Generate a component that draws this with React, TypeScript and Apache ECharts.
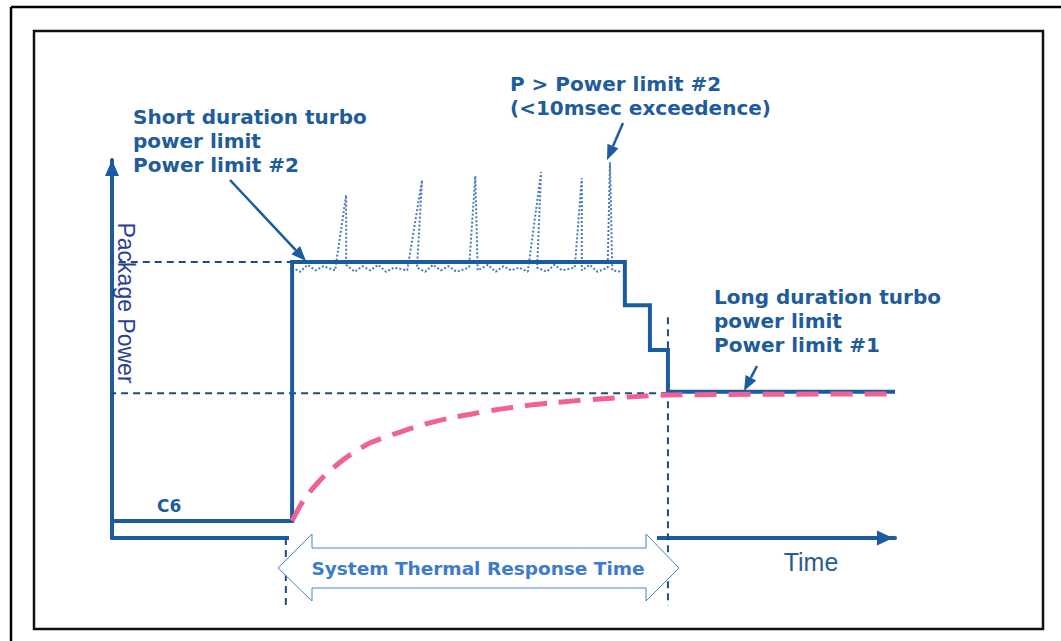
import React, { useEffect, useRef } from "react";
import * as echarts from "echarts";

// ---- data (time in arbitrary units, package power in % of PL2) ----
const TIME_MAX = 100;
const POWER_MAX = 137;
const PL2 = 100;
const PL1 = 52.5;

const packagePowerT = [0, 23, 23, 65.5, 65.5, 68.7, 68.7, 71, 71, 100];
const packagePowerP = [6.2, 6.2, 100, 100, 84.4, 84.4, 68.1, 68.1, 53, 53];

const thermalT = [23, 24.5, 26.6, 28.5, 30.4, 33, 36.8, 40, 43.2, 46.4, 49.6, 52.7, 55.9, 59, 62.3, 66, 71, 85, 100];
const thermalP = [6.2, 13.8, 21, 26, 30.1, 34.5, 38.4, 41.3, 43.5, 45.2, 46.7, 47.9, 48.9, 49.7, 50.4, 51.1, 51.8, 52.1, 52.2];

const burstT = [23, 24, 25, 26, 27, 28.5, 29.9, 29.9, 31, 32, 33, 34, 35, 36, 37.7, 39.6, 38.95, 40, 41, 42, 43, 44, 45.6, 46.4, 46.7, 48, 49, 50, 51, 52, 53.1, 54.8, 54.3, 55.5, 56.5, 57.5, 59.1, 60, 60, 61, 62, 63.3, 63.6, 63.9, 65];
const burstP = [98, 96.5, 99, 97, 98.5, 97, 124.3, 99, 96.5, 98.5, 97, 99, 96.5, 98, 97, 129.7, 98, 96.5, 99, 97, 98.5, 96.5, 98, 131.2, 97, 99, 96.5, 98.5, 97, 98, 96.5, 132.6, 98, 96.5, 99, 97, 98, 130.4, 97, 99, 96.5, 98, 136.2, 97, 96.5];

const pl2RefT = [-2.2, 23];
const pl1RefT = [-1.9, 71];
const responseStartT = 22.2;
const responseEndT = 71;
const responseStartP = [0, -24.5];
const responseEndP = [80, -24.5];

const labelShort = ["Short duration turbo", "power limit", "Power limit #2"];
const labelBurst = ["P > Power limit #2", "(<10msec exceedence)"];
const labelLong = ["Long duration turbo", "power limit", "Power limit #1"];
const labelC6 = "C6";
const labelYAxis = "Package Power";
const labelXAxis = "Time";
const labelResponse = "System Thermal Response Time";

const zip = (a: number[], b: number[]) => a.map((v, i) => [v, b[i]]);

const BLUE = "#1b5c9e";
const TEXT_BLUE = "#1e5c9c";
const BOLD = 'bold 20px "DejaVu Sans"';

function arrow(x1: number, y1: number, x2: number, y2: number, color: string) {
  const dx = x2 - x1, dy = y2 - y1;
  const len = Math.sqrt(dx * dx + dy * dy);
  const ux = dx / len, uy = dy / len;
  const hl = 15, hw = 6;
  const bx = x2 - ux * hl, by = y2 - uy * hl;
  return [
    { type: "line", z: 50, shape: { x1, y1, x2: bx, y2: by }, style: { stroke: color, lineWidth: 2.5 } },
    {
      type: "polygon", z: 50,
      shape: { points: [[x2, y2], [bx - uy * hw, by + ux * hw], [bx + uy * hw, by - ux * hw]] },
      style: { fill: color },
    },
  ];
}

function textLines(lines: string[], x: number, y0: number, step: number, font: string, fill: string) {
  return lines.map((t, i) => ({
    type: "text", z: 60, x, y: y0 + i * step,
    style: { text: t, font, fill, align: "left", verticalAlign: "middle" },
  }));
}

export default function App() {
  const ref = useRef<HTMLDivElement>(null);
  useEffect(() => {
    if (!ref.current) return;
    const chart = echarts.init(ref.current, null, { renderer: "svg" });
    const dashed = { color: "#1f4b85", width: 2, type: [7, 5] as any };
    chart.setOption({
      animation: false,
      backgroundColor: "#ffffff",
      grid: { left: 112, right: 166, top: 160, bottom: 103, containLabel: false },
      xAxis: {
        type: "value", min: 0, max: TIME_MAX,
        axisLine: { show: true, onZero: false, symbol: ["none", "triangle"], symbolSize: [15, 16], symbolOffset: [0, -10], lineStyle: { color: BLUE, width: 4 } },
        axisTick: { show: false }, axisLabel: { show: false }, splitLine: { show: false },
      },
      yAxis: {
        type: "value", min: 0, max: POWER_MAX,
        axisLine: { show: true, onZero: false, symbol: ["none", "triangle"], symbolSize: [14, 16], symbolOffset: [0, -8], lineStyle: { color: BLUE, width: 4 } },
        axisTick: { show: false }, axisLabel: { show: false }, splitLine: { show: false },
      },
      series: [
        { type: "line", clip: false, symbol: "none", data: zip(pl2RefT, [PL2, PL2]), lineStyle: dashed, z: 2 },
        { type: "line", clip: false, symbol: "none", data: zip(pl1RefT, [PL1, PL1]), lineStyle: dashed, z: 2 },
        { type: "line", clip: false, symbol: "none", data: zip([responseStartT, responseStartT], responseStartP), lineStyle: dashed, z: 2 },
        { type: "line", clip: false, symbol: "none", data: zip([responseEndT, responseEndT], responseEndP), lineStyle: dashed, z: 2 },
        { type: "line", clip: false, symbol: "none", data: zip(burstT, burstP), lineStyle: { color: "#4a78b8", width: 2, type: "dotted" }, z: 3 },
        { type: "line", clip: false, symbol: "none", data: zip(packagePowerT, packagePowerP), lineStyle: { color: BLUE, width: 4, join: "miter" }, z: 4 },
        { type: "line", clip: false, symbol: "none", smooth: 0.3, data: zip(thermalT, thermalP), lineStyle: { color: "#ef6197", width: 5, type: [22, 12] }, z: 5 },
      ],
      graphic: {
        elements: [
          { type: "line", z: 70, shape: { x1: 11, y1: 7, x2: 1061, y2: 7 }, style: { stroke: "#000", lineWidth: 2.5 } },
          { type: "line", z: 70, shape: { x1: 11, y1: 7, x2: 11, y2: 641 }, style: { stroke: "#000", lineWidth: 2.5 } },
          { type: "rect", z: 70, shape: { x: 34, y: 31, width: 1009, height: 598 }, style: { fill: "none", stroke: "#111", lineWidth: 2.5 } },
          { type: "rect", z: 40, shape: { x: 289, y: 535, width: 368, height: 7 }, style: { fill: "#fff" } },
          {
            type: "polygon", z: 41,
            shape: { points: [[278, 568], [312, 534], [312, 548], [646, 548], [646, 534], [679, 568], [646, 601], [646, 588], [312, 588], [312, 601]] },
            style: { fill: "#fff", stroke: "#4a80d4", lineWidth: 1 },
          },
          { type: "text", z: 60, x: 478, y: 568, style: { text: labelResponse, font: 'bold 18.5px "DejaVu Sans"', fill: "#3d7bcf", align: "center", verticalAlign: "middle" } },
          ...textLines(labelShort, 133, 117, 24, BOLD, TEXT_BLUE),
          ...textLines(labelBurst, 510, 84, 24, BOLD, TEXT_BLUE),
          ...textLines(labelLong, 714, 297, 24, BOLD, TEXT_BLUE),
          { type: "text", z: 60, x: 157, y: 506, style: { text: labelC6, font: 'bold 17px "DejaVu Sans"', fill: TEXT_BLUE, align: "left", verticalAlign: "middle" } },
          { type: "text", z: 60, x: 126, y: 303, rotation: -Math.PI / 2, style: { text: labelYAxis, font: '23px "Liberation Sans"', fill: "#2d3f94", align: "center", verticalAlign: "middle" } },
          { type: "text", z: 60, x: 811, y: 562, style: { text: labelXAxis, font: '25px "Liberation Sans"', fill: "#2a5d8f", align: "center", verticalAlign: "middle" } },
          ...arrow(230, 180, 306, 261, BLUE),
          ...arrow(623, 123, 607, 160, BLUE),
          ...arrow(757, 366, 744, 391, BLUE),
        ],
      },
    });
    return () => chart.dispose();
  }, []);
  return <div ref={ref} style={{ position: "fixed", left: 0, top: 0, width: 1061, height: 641 }} />;
}
